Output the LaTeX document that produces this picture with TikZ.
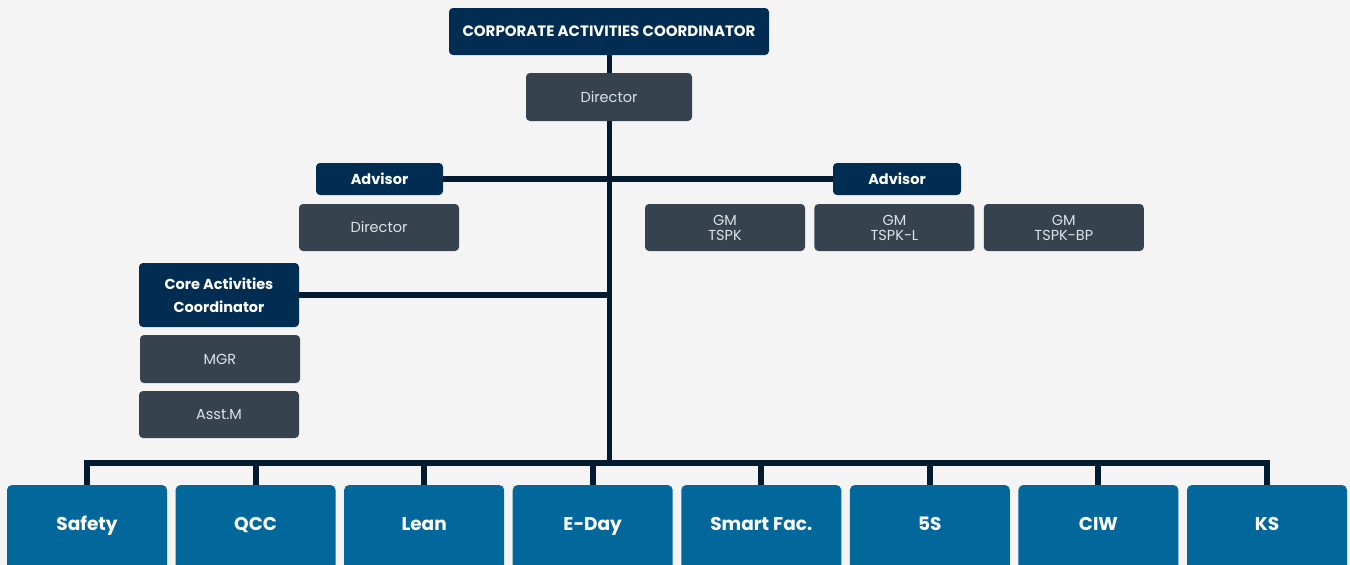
\documentclass[tikz,border=0pt]{standalone}
\usepackage{fontspec}
\setmainfont{Poppins}
\usepackage{xcolor}
\usepackage{tikz}
\usetikzlibrary{positioning}

\definecolor{pagebg}{RGB}{244,244,244}
\definecolor{navy}{RGB}{1,45,82}
\definecolor{slate}{RGB}{54,67,79}
\definecolor{sea}{RGB}{2,103,155}
\definecolor{wire}{RGB}{2,27,48}
\definecolor{paletext}{RGB}{222,226,230}

\pgfdeclarelayer{back}
\pgfdeclarelayer{links}
\pgfsetlayers{back,links,main}

\begin{document}
\begin{tikzpicture}[x=1pt, y=-1pt,
    head/.style={fill=navy, rounded corners=4pt, text=white,
      font=\bfseries\fontsize{14.5}{17}\selectfont, align=center, inner sep=0pt},
    post/.style={fill=slate, rounded corners=4pt, text=paletext,
      minimum width=160pt, minimum height=47pt, inner sep=0pt,
      font=\fontsize{14.5}{15}\selectfont, align=center},
    topic/.style={fill=sea, rounded corners=5pt, text=white,
      minimum width=160pt, minimum height=90pt, inner sep=0pt,
      text height=13pt, text depth=12pt,
      font=\bfseries\fontsize{18.5}{20}\selectfont},
    link/.style={draw=wire, line width=6pt}]
  \useasboundingbox (0,0) rectangle (1350,565);
  \begin{pgfonlayer}{back}
    \fill[pagebg] (0,0) rectangle (1350,565);
  \end{pgfonlayer}
  \clip (0,0) rectangle (1350,565);

  % top of the chart
  \node[head, minimum width=320pt, minimum height=47pt,
    font=\bfseries\fontsize{15}{17}\selectfont] (corp) at (609,31.5)
    {CORPORATE ACTIVITIES COORDINATOR};
  \node[post, minimum width=166pt, minimum height=48pt] (dir) at (609,97) {Director};

  % advisors
  \node[head, minimum width=127pt, minimum height=32pt] (advL) at (379.5,179) {Advisor};
  \node[head, minimum width=128pt, minimum height=32pt] (advR) at (897,179) {Advisor};
  \node[post] (dirL) at (379,227.5) {Director};
  \node[post] (gm1) at (725,227.5) {GM\\TSPK};
  \node[post, right=9pt of gm1] (gm2) {GM\\TSPK-L};
  \node[post, right=9pt of gm2] (gm3) {GM\\TSPK-BP};

  % core activities
  \node[head, minimum width=160pt, minimum height=64pt, font=\bfseries\fontsize{14.5}{23}\selectfont]
    (core) at (219,295) {Core Activities\\Coordinator};
  \node[post, minimum height=48pt] (mgr) at (220,359) {MGR};
  \node[post] (asst) at (219,414.5) {Asst.M};

  % activities row
  \foreach \lbl [count=\i] in {Safety,QCC,Lean,E-Day,Smart Fac.,5S,CIW,KS}
    \node[topic] (t\i) at ({87+(\i-1)*168.57},530) {\lbl};

  \coordinate (hub) at (609,463);

  \begin{pgfonlayer}{links}
    \draw[link, line width=5pt] (corp.south) -- (hub);
    \draw[link] (advL.east) -- (advR.west);
    \draw[link] (core.east) -- (core.east -| hub);
    \draw[link] (t1.north) |- (hub) -| (t8.north);
    \foreach \i in {2,...,7}
      \draw[link] (t\i.north) -- (t\i.north |- hub);
  \end{pgfonlayer}
\end{tikzpicture}
\end{document}
